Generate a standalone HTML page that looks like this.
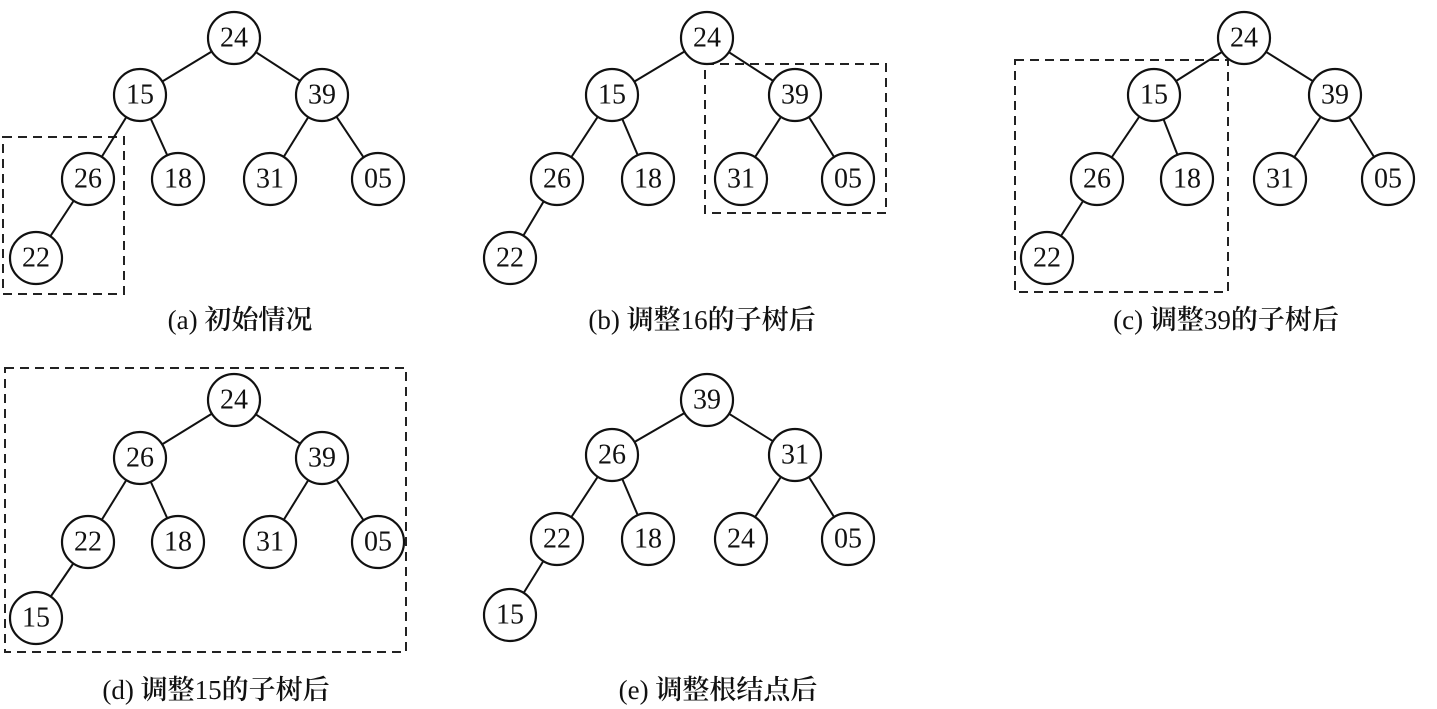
<!DOCTYPE html>
<html><head><meta charset="utf-8"><style>
html,body{margin:0;padding:0;background:#fff;}
svg{display:block}
text{font-family:"Liberation Serif","Noto Serif CJK SC",serif;fill:#111;}
.n text{font-size:28px;text-anchor:middle;dominant-baseline:central}
.c{font-size:27px;text-anchor:middle;font-weight:600}
.c tspan.l{font-weight:normal}
</style></head><body>
<svg width="1437" height="709" viewBox="0 0 1437 709">
<g stroke="#222" stroke-width="2" stroke-dasharray="9,6" fill="none">
<rect x="3" y="137" width="121" height="157"/>
<rect x="705" y="64" width="181" height="149"/>
<rect x="1015" y="60" width="213" height="232"/>
<rect x="5" y="368" width="401" height="284"/>
</g>
<g stroke="#111" stroke-width="2">
<line x1="234" y1="38" x2="140" y2="95"/><line x1="234" y1="38" x2="322" y2="95"/>
<line x1="140" y1="95" x2="88" y2="179"/><line x1="140" y1="95" x2="178" y2="179"/>
<line x1="322" y1="95" x2="270" y2="179"/><line x1="322" y1="95" x2="378" y2="179"/>
<line x1="88" y1="179" x2="36" y2="258"/>
<line x1="707" y1="38" x2="612" y2="95"/><line x1="707" y1="38" x2="795" y2="95"/>
<line x1="612" y1="95" x2="557" y2="179"/><line x1="612" y1="95" x2="648" y2="179"/>
<line x1="795" y1="95" x2="741" y2="179"/><line x1="795" y1="95" x2="848" y2="179"/>
<line x1="557" y1="179" x2="510" y2="258"/>
<line x1="1244" y1="38" x2="1154" y2="95"/><line x1="1244" y1="38" x2="1335" y2="95"/>
<line x1="1154" y1="95" x2="1097" y2="179"/><line x1="1154" y1="95" x2="1187" y2="179"/>
<line x1="1335" y1="95" x2="1280" y2="179"/><line x1="1335" y1="95" x2="1388" y2="179"/>
<line x1="1097" y1="179" x2="1047" y2="258"/>
<line x1="234" y1="400" x2="140" y2="458"/><line x1="234" y1="400" x2="322" y2="458"/>
<line x1="140" y1="458" x2="88" y2="542"/><line x1="140" y1="458" x2="178" y2="542"/>
<line x1="322" y1="458" x2="270" y2="542"/><line x1="322" y1="458" x2="378" y2="542"/>
<line x1="88" y1="542" x2="36" y2="618"/>
<line x1="707" y1="400" x2="612" y2="455"/><line x1="707" y1="400" x2="795" y2="455"/>
<line x1="612" y1="455" x2="557" y2="539"/><line x1="612" y1="455" x2="648" y2="539"/>
<line x1="795" y1="455" x2="741" y2="539"/><line x1="795" y1="455" x2="848" y2="539"/>
<line x1="557" y1="539" x2="510" y2="615"/>
</g>
<g class="n" stroke="none">
<g fill="#fff" stroke="#111" stroke-width="2.2">
<circle cx="234" cy="38" r="26"/><circle cx="140" cy="95" r="26"/><circle cx="322" cy="95" r="26"/><circle cx="88" cy="179" r="26"/><circle cx="178" cy="179" r="26"/><circle cx="270" cy="179" r="26"/><circle cx="378" cy="179" r="26"/><circle cx="36" cy="258" r="26"/>
<circle cx="707" cy="38" r="26"/><circle cx="612" cy="95" r="26"/><circle cx="795" cy="95" r="26"/><circle cx="557" cy="179" r="26"/><circle cx="648" cy="179" r="26"/><circle cx="741" cy="179" r="26"/><circle cx="848" cy="179" r="26"/><circle cx="510" cy="258" r="26"/>
<circle cx="1244" cy="38" r="26"/><circle cx="1154" cy="95" r="26"/><circle cx="1335" cy="95" r="26"/><circle cx="1097" cy="179" r="26"/><circle cx="1187" cy="179" r="26"/><circle cx="1280" cy="179" r="26"/><circle cx="1388" cy="179" r="26"/><circle cx="1047" cy="258" r="26"/>
<circle cx="234" cy="400" r="26"/><circle cx="140" cy="458" r="26"/><circle cx="322" cy="458" r="26"/><circle cx="88" cy="542" r="26"/><circle cx="178" cy="542" r="26"/><circle cx="270" cy="542" r="26"/><circle cx="378" cy="542" r="26"/><circle cx="36" cy="618" r="26"/>
<circle cx="707" cy="400" r="26"/><circle cx="612" cy="455" r="26"/><circle cx="795" cy="455" r="26"/><circle cx="557" cy="539" r="26"/><circle cx="648" cy="539" r="26"/><circle cx="741" cy="539" r="26"/><circle cx="848" cy="539" r="26"/><circle cx="510" cy="615" r="26"/>
</g>
<text x="234" y="38">24</text><text x="140" y="95">15</text><text x="322" y="95">39</text><text x="88" y="179">26</text><text x="178" y="179">18</text><text x="270" y="179">31</text><text x="378" y="179">05</text><text x="36" y="258">22</text>
<text x="707" y="38">24</text><text x="612" y="95">15</text><text x="795" y="95">39</text><text x="557" y="179">26</text><text x="648" y="179">18</text><text x="741" y="179">31</text><text x="848" y="179">05</text><text x="510" y="258">22</text>
<text x="1244" y="38">24</text><text x="1154" y="95">15</text><text x="1335" y="95">39</text><text x="1097" y="179">26</text><text x="1187" y="179">18</text><text x="1280" y="179">31</text><text x="1388" y="179">05</text><text x="1047" y="258">22</text>
<text x="234" y="400">24</text><text x="140" y="458">26</text><text x="322" y="458">39</text><text x="88" y="542">22</text><text x="178" y="542">18</text><text x="270" y="542">31</text><text x="378" y="542">05</text><text x="36" y="618">15</text>
<text x="707" y="400">39</text><text x="612" y="455">26</text><text x="795" y="455">31</text><text x="557" y="539">22</text><text x="648" y="539">18</text><text x="741" y="539">24</text><text x="848" y="539">05</text><text x="510" y="615">15</text>
</g>
<text class="c" x="240" y="329"><tspan class="l">(a) </tspan>初始情况</text>
<text class="c" x="702" y="329"><tspan class="l">(b) </tspan>调整<tspan class="l">16</tspan>的子树后</text>
<text class="c" x="1226" y="329"><tspan class="l">(c) </tspan>调整<tspan class="l">39</tspan>的子树后</text>
<text class="c" x="216" y="699"><tspan class="l">(d) </tspan>调整<tspan class="l">15</tspan>的子树后</text>
<text class="c" x="718" y="699"><tspan class="l">(e) </tspan>调整根结点后</text>
</svg>
</body></html>
